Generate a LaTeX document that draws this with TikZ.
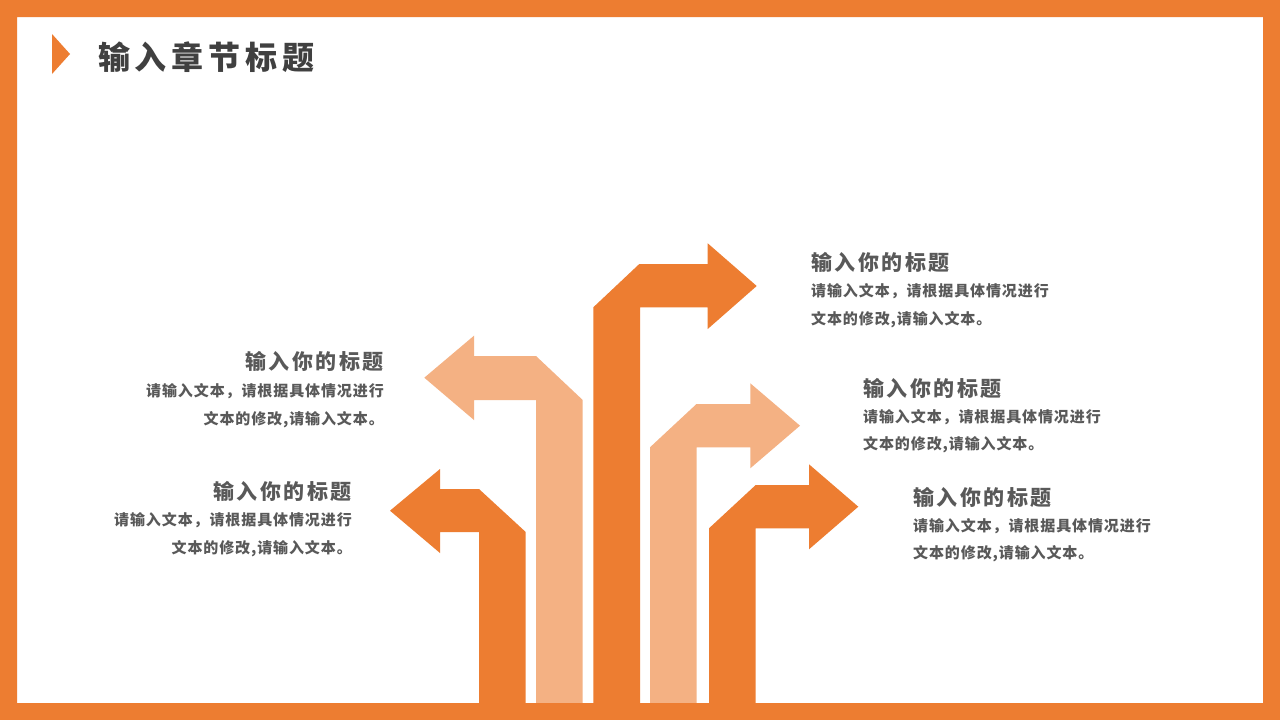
\documentclass[tikz,border=0pt]{standalone}
\usepackage{fontspec}
\newfontfamily\pagetitlefont[LetterSpace=15]{Noto Sans CJK SC}
\newfontfamily\sectfont[LetterSpace=12]{Noto Sans CJK SC}
\newfontfamily\bodyfont[LetterSpace=6]{Noto Sans CJK SC}
\definecolor{dorange}{HTML}{ED7D31}
\definecolor{lorange}{HTML}{F4B183}
\definecolor{tgray}{HTML}{404040}
\definecolor{sgray}{HTML}{595959}
\tikzset{
  darrow/.style={fill=dorange},
  larrow/.style={fill=lorange},
  pagetitle/.style={inner sep=0pt, text=tgray, font=\pagetitlefont\bfseries\fontsize{32}{36}\selectfont},
  secttitle/.style={inner sep=0pt, text=sgray, font=\sectfont\bfseries\fontsize{21}{24}\selectfont},
  bodytext/.style={inner sep=0pt, text=sgray, font=\bodyfont\bfseries\fontsize{15}{18}\selectfont},
}
\begin{document}
\begin{tikzpicture}[x=1pt,y=-1pt]
\useasboundingbox (0,0) rectangle (1280,720);
\fill[white] (0,0) rectangle (1280,720);
% title marker
\fill[dorange] (52,34) -- (70,54) -- (52,74) -- cycle;
\node[pagetitle, anchor=west] (ptitle) at (98,57) {输入章节标题};
% arrows
\fill[darrow] (479,710) -- (479,532) -- (440,532) -- (440,553) -- (390,510.7) -- (440,469) -- (440,489) -- (479,489) -- (525.7,532) -- (525.7,710) -- cycle;
\fill[larrow] (536,710) -- (536,400) -- (474,400) -- (474,420) -- (424.3,377.7) -- (474,335.7) -- (474,356) -- (536,356) -- (582.7,400) -- (582.7,710) -- cycle;
\fill[darrow] (593.3,710) -- (593.3,307.3) -- (639.3,264) -- (707.7,264) -- (707.7,243.3) -- (756.7,286) -- (707.7,329) -- (707.7,307.3) -- (640,307.3) -- (640,710) -- cycle;
\fill[larrow] (650,710) -- (650,447.3) -- (696.5,404) -- (750.3,404) -- (750.3,383.3) -- (800,425.7) -- (750.3,468.3) -- (750.3,447.3) -- (696.7,447.3) -- (696.7,710) -- cycle;
\fill[darrow] (709,710) -- (709,528.3) -- (755.7,485) -- (809,485) -- (809,464.3) -- (858.3,506.7) -- (809,549.3) -- (809,528.3) -- (755.7,528.3) -- (755.7,710) -- cycle;
% right texts
\node[secttitle, anchor=west] (rt1) at (811,262) {输入你的标题};
\node[bodytext, anchor=west] (rb1a) at (811,291) {请输入文本，请根据具体情况进行};
\node[bodytext, anchor=west] (rb1b) at (811,320) {文本的修改,请输入文本。};
\node[secttitle, anchor=west] (rt2) at (863,388) {输入你的标题};
\node[bodytext, anchor=west] (rb2a) at (863,417) {请输入文本，请根据具体情况进行};
\node[bodytext, anchor=west] (rb2b) at (863,445) {文本的修改,请输入文本。};
\node[secttitle, anchor=west] (rt3) at (913,497) {输入你的标题};
\node[bodytext, anchor=west] (rb3a) at (913,526) {请输入文本，请根据具体情况进行};
\node[bodytext, anchor=west] (rb3b) at (913,554) {文本的修改,请输入文本。};
% left texts
\node[secttitle, anchor=east] (lt1) at (384,361) {输入你的标题};
\node[bodytext, anchor=east] (lb1a) at (384,391) {请输入文本，请根据具体情况进行};
\node[bodytext, anchor=east] (lb1b) at (384,420) {文本的修改,请输入文本。};
\node[secttitle, anchor=east] (lt2) at (352,491) {输入你的标题};
\node[bodytext, anchor=east] (lb2a) at (352,520) {请输入文本，请根据具体情况进行};
\node[bodytext, anchor=east] (lb2b) at (352,549) {文本的修改,请输入文本。};
% frame
\fill[dorange, even odd rule] (0,0) rectangle (1280,720) (17,17) rectangle (1263,703);
\end{tikzpicture}
\end{document}
